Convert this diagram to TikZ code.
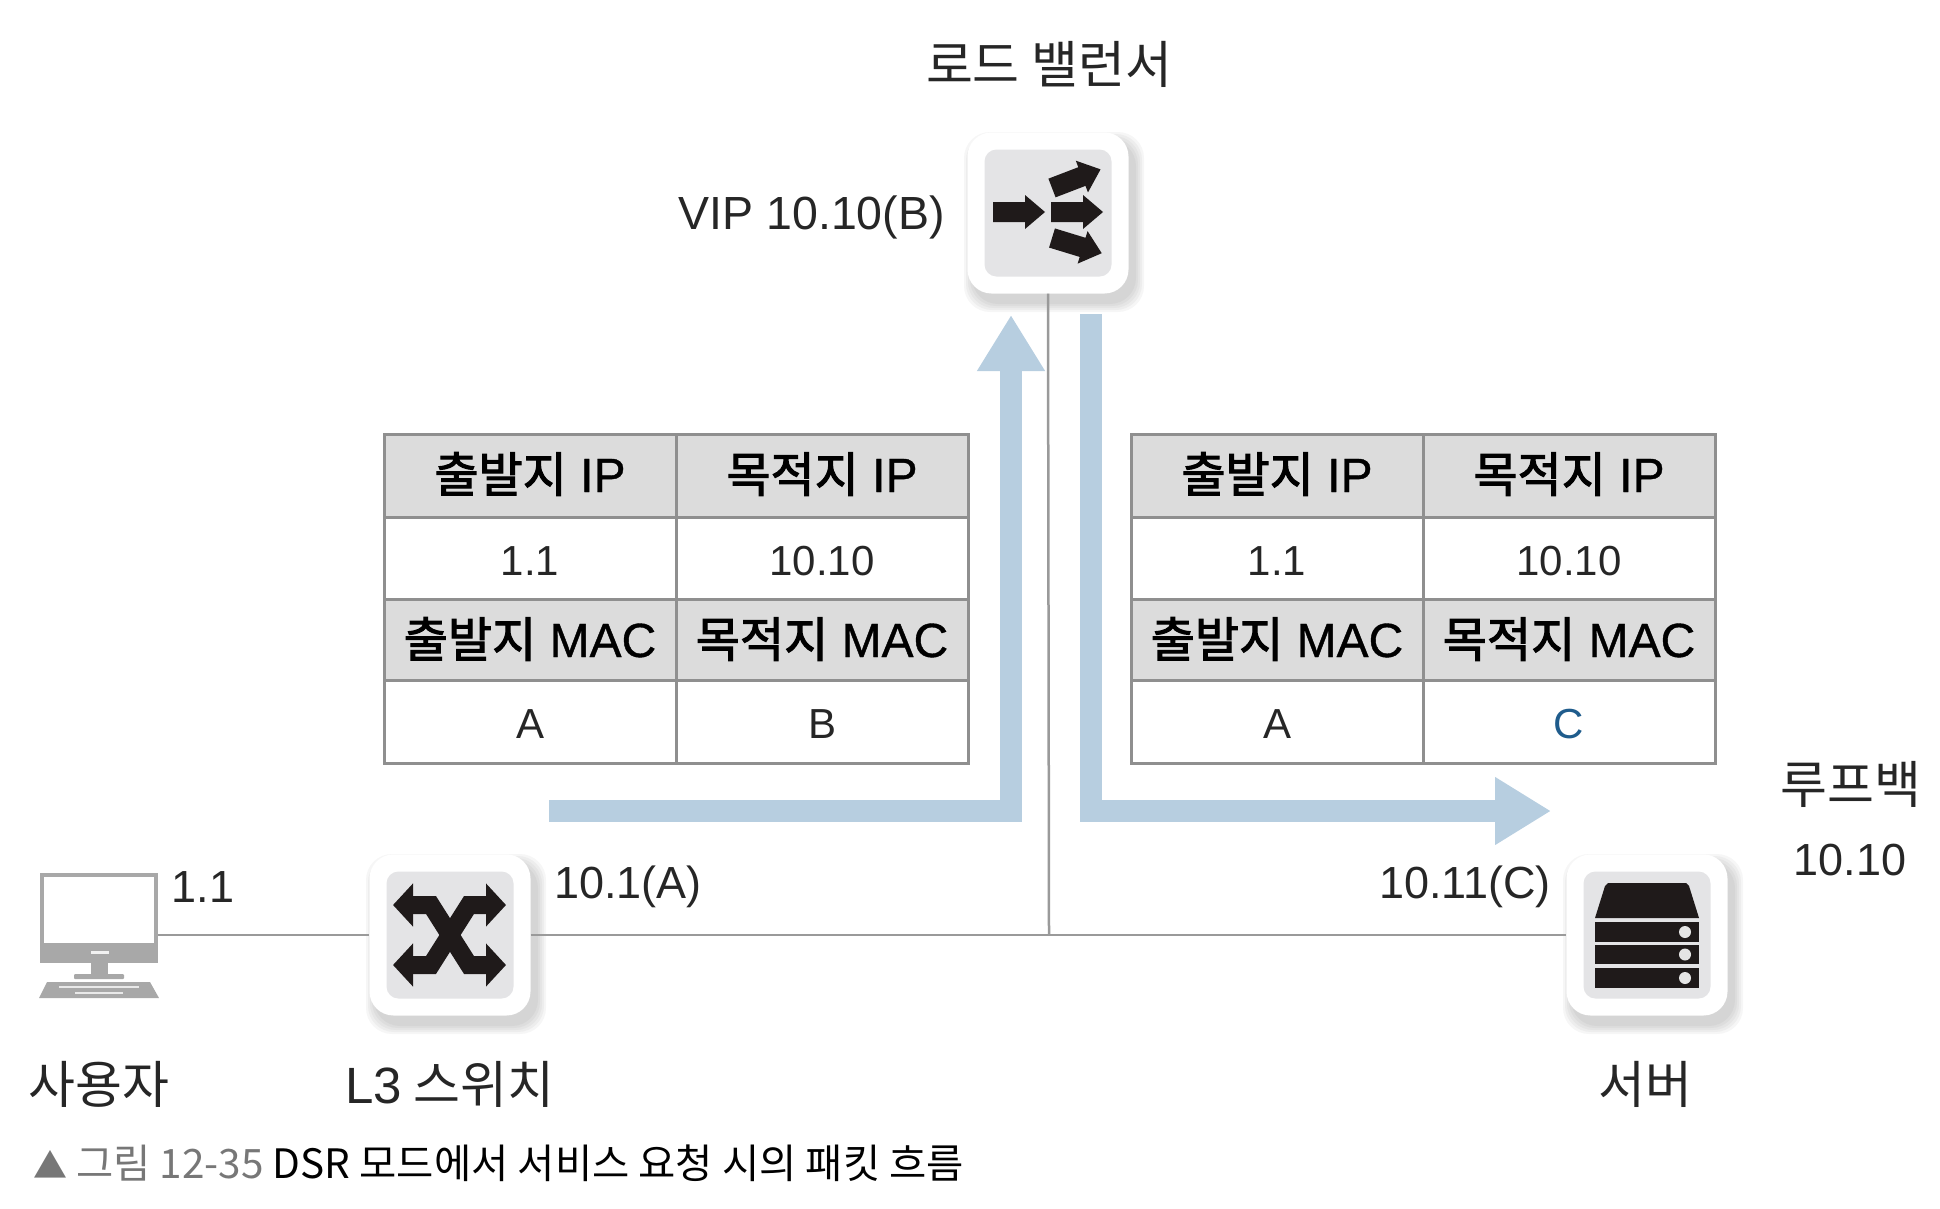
\documentclass[tikz,border=0pt]{standalone}
\usepackage{fontspec}
\usepackage{tikz}
\usetikzlibrary{positioning}
\usetikzlibrary{arrows.meta}
\setmainfont{Liberation Sans}
\newfontfamily\kr{Noto Sans CJK KR}
\newfontfamily\krhead[FakeBold=2.2]{Noto Sans CJK KR}
\newfontfamily\lathead[FakeBold=.8]{Liberation Sans}
\definecolor{flowblue}{HTML}{B7CEE0}
\definecolor{wiregray}{HTML}{9A9A9A}
\definecolor{cellline}{HTML}{8F8F8F}
\definecolor{cellhead}{HTML}{DCDCDC}
\definecolor{tilegray}{HTML}{E4E4E6}
\definecolor{iconblack}{HTML}{1F1A1A}
\definecolor{pcgray}{HTML}{A8A8A8}
\definecolor{capgray}{HTML}{777777}
\definecolor{macblue}{HTML}{1F5C8C}
\tikzset{
  tile/.style={fill=white,rounded corners=24pt,minimum width=161pt,minimum height=161pt,inner sep=0pt},
  tileface/.style={fill=tilegray,rounded corners=12pt,minimum width=127pt,minimum height=127pt,inner sep=0pt},
  wire/.style={draw=wiregray,line width=2.5pt},
  flow/.style={draw=flowblue,line width=22pt,line join=miter,-{Triangle[length=56pt,width=64pt]}},
  lbl/.style={font=\fontsize{45}{45}\selectfont,inner sep=0pt,text=black!85},
  krlbl/.style={font=\fontsize{51}{51}\selectfont\kr,inner sep=0pt,text=black!85},
  headcell/.style={draw=cellline,line width=3pt,fill=cellhead,minimum width=292pt,minimum height=83pt,inner sep=0pt,text height=32pt,text depth=0pt,font=\fontsize{48}{48}\selectfont\lathead},
  valcell/.style={headcell,fill=white,font=\fontsize{42}{42}\selectfont,text=black!85}
}
% tile with its soft shadow
\newcommand{\tileat}[3]{
  \foreach \d in {10,8,6,4,2}
    \fill[black,opacity=.035,rounded corners=26pt] (#2-80+6-\d,#3-80+9-\d) rectangle (#2+80+6+\d,#3+80+9+\d);
  \node[tile] (#1) at (#2,#3) {};
  \node[tileface] (#1face) at (#2,#3) {};
}
\newcommand{\packettable}[3]{
  \begin{scope}[shift={(#2,435)}]
  \node[headcell] (#1srcip) at (148,41) {{\krhead 출발지} IP};
  \node[headcell] (#1dstip) at (440,41) {{\krhead 목적지} IP};
  \node[valcell] (#1srcval) at (148,124) {1.1};
  \node[valcell] (#1dstval) at (440,124) {10.10};
  \node[headcell] (#1srcmac) at (148,206) {{\krhead 출발지} MAC};
  \node[headcell] (#1dstmac) at (440,206) {{\krhead 목적지} MAC};
  \node[valcell] (#1srca) at (148,287) {A};
  \node[valcell] (#1dstb) at (440,287) {#3};
  \end{scope}
}
\newcommand{\blockarrow}[3]{
  \fill[iconblack,shift={(#1,#2)},rotate=#3] (0,-10)--(32,-10)--(32,-17)--(52,0)--(32,17)--(32,10)--(0,10)--cycle;
}
\begin{document}
\begin{tikzpicture}[x=1pt,y=-1pt]
\useasboundingbox (0,0) rectangle (1940,1208);
\coordinate (hub) at (1049,935);
\node[minimum width=118pt,minimum height=90pt,inner sep=0pt] (user) at (99,918) {};
\coordinate (userport) at (158,935);
% wires first, tiles on top
\tileat{lb}{1048}{213}
\tileat{switch}{450}{935}
\tileat{server}{1647}{935}
\draw[wire] (lb.south) -- (hub);
\draw[wire] (userport) -- (switch.west);
\draw[wire] (switch.east) -- (server.west);

% user pc
\fill[pcgray] (40,873) rectangle (158,963);
\fill[white] (44,877) rectangle (154,943);
\fill[white!85!pcgray] (91,951) rectangle (109,954);
\fill[pcgray] (91,963) rectangle (108,975);
\fill[pcgray,rounded corners=1pt] (74,974) rectangle (124,979);
\fill[pcgray] (47,982)--(150,982)--(159,998)--(39,998)--cycle;
\draw[white!75!pcgray,line width=1.5pt] (59,987)--(139,987);
\draw[white!75!pcgray,line width=1.5pt] (75,993)--(123,993);

% load balancer icon
\blockarrow{993}{212}{0}
\blockarrow{1051}{212}{0}
\blockarrow{1052}{188}{21}
\blockarrow{1052}{238}{-17}

% switch icon
\draw[iconblack,line width=18pt,line join=miter,{Triangle[length=20pt,width=42pt]}-{Triangle[length=20pt,width=42pt]}] (393,905)--(431,905)--(469,965)--(506,965);
\draw[iconblack,line width=18pt,line join=miter,{Triangle[length=20pt,width=42pt]}-{Triangle[length=20pt,width=42pt]}] (393,965)--(431,965)--(469,905)--(506,905);

% server icon
\fill[iconblack] (1595,918)--(1605,886)--(1608,883)--(1686,883)--(1689,886)--(1699,918)--cycle;
\foreach \yt/\yb in {922/942,945/964,968/988}{
  \fill[iconblack] (1595,\yt) rectangle (1699,\yb);
  \fill[white!90!black] (1685,{(\yt+\yb)/2}) circle(6);
}

% packet flows
\coordinate (inleft) at (549,811);
\coordinate (inbend) at (1011,811);
\coordinate (intip) at (1011,315);
\coordinate (outtop) at (1091,314);
\coordinate (outbend) at (1091,811);
\coordinate (outtip) at (1551,811);
\draw[flow] (inleft) -- (inbend) -- (intip);
\draw[flow] (outtop) -- (outbend) -- (outtip);

% packet tables
\packettable{req}{382}{B}
\packettable{fwd}{1129}{\textcolor{macblue}{C}}

% labels
\node[krlbl] (lblb) at (1049,64) {로드 밸런서};
\node[lbl,font=\fontsize{46.5}{46}\selectfont,anchor=east] (lbvip) at (945,217) {VIP 10.10(B)};
\node[lbl] (lbuserip) at (203,887) {1.1};
\node[lbl,anchor=west] (lbswip) at (554,887) {10.1(A)};
\node[lbl,anchor=east] (lbsvip) at (1551,887) {10.11(C)};
\node[krlbl] (lbloop) at (1851,784) {루프백};
\node[lbl] (lbloopip) at (1850,860) {10.10};
\node[krlbl] (lbuser) at (99,1084) {사용자};
\node[krlbl] (lbswitch) at (450,1084) {{\fontspec{Liberation Sans}L3} 스위치};
\node[krlbl] (lbserver) at (1645,1084) {서버};
\node[font=\fontsize{40.5}{41}\selectfont\kr,inner sep=0pt,anchor=west] (caption) at (33,1163) {\textcolor{capgray}{{\fontsize{34}{34}\selectfont ▲} 그림 12-35} DSR 모드에서 서비스 요청 시의 패킷 흐름};
\end{tikzpicture}
\end{document}
